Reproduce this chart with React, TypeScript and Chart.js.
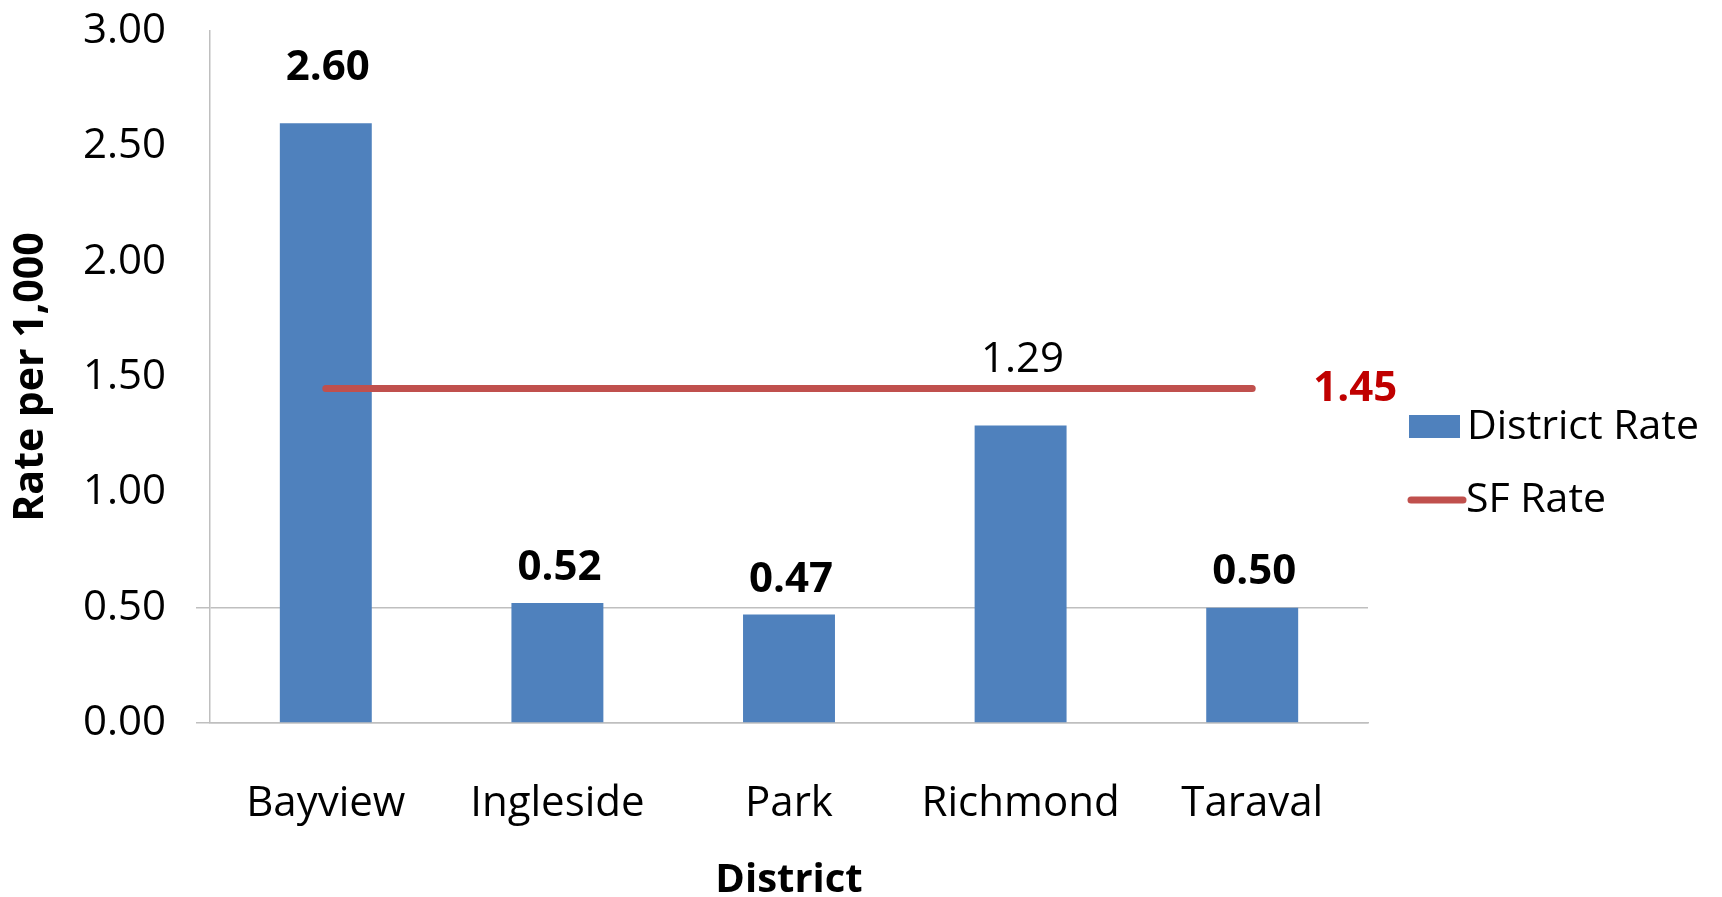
import React, { useEffect, useRef } from "react";
import { Chart, registerables } from "chart.js";

Chart.register(...registerables);

const districts = ["Bayview", "Ingleside", "Park", "Richmond", "Taraval"];
const districtRate = [2.6, 0.52, 0.47, 1.29, 0.5];
const sfRate = [1.45, 1.45, 1.45, 1.45, 1.45];
const yMin = 0;
const yMax = 3;
const yStep = 0.5;
const gridValues = [0, 0.5];

const BAR_COLOR = "#4F81BD";
const LINE_COLOR = "#C0504D";
const LABEL_RED = "#C00000";
const AXIS_GRAY = "#BFBFBF";
const FONT = "'Open Sans', 'Noto Sans', sans-serif";

// distance (px) between bar top and its value label centre
const labelGaps = [55, 35, 35, 65, 36];
const boldLabels = [true, true, true, false, true];

const labelPlugin = {
  id: "valueLabels",
  afterDatasetsDraw(chart: any) {
    const ctx = chart.ctx;
    const barMeta = chart.getDatasetMeta(0);
    ctx.save();
    ctx.textAlign = "center";
    ctx.textBaseline = "middle";
    ctx.fillStyle = "#000";
    barMeta.data.forEach((el: any, i: number) => {
      ctx.font = `${boldLabels[i] ? "bold " : ""}42px ${FONT}`;
      ctx.fillText(districtRate[i].toFixed(2), el.x + 2, el.y - labelGaps[i]);
    });
    const lineMeta = chart.getDatasetMeta(1);
    const last = lineMeta.data[lineMeta.data.length - 1];
    ctx.font = `bold 42px ${FONT}`;
    ctx.fillStyle = LABEL_RED;
    ctx.textAlign = "left";
    ctx.fillText(sfRate[sfRate.length - 1].toFixed(2), last.x + 61, last.y);

    // legend
    const lx = chart.chartArea.right + 41;
    ctx.fillStyle = BAR_COLOR;
    ctx.fillRect(lx, 415, 51, 23);
    ctx.fillStyle = "#000";
    ctx.font = `41px ${FONT}`;
    ctx.textAlign = "left";
    ctx.fillText(chart.data.datasets[0].label, lx + 58, 427);
    ctx.strokeStyle = LINE_COLOR;
    ctx.lineWidth = 7;
    ctx.lineCap = "round";
    ctx.beginPath();
    ctx.moveTo(lx + 2, 500);
    ctx.lineTo(lx + 54, 500);
    ctx.stroke();
    ctx.fillText(chart.data.datasets[1].label, lx + 57, 500);
    ctx.restore();
  },
};

export default function App() {
  const ref = useRef<HTMLCanvasElement | null>(null);
  useEffect(() => {
    document.body.style.margin = "0";
    const canvas = ref.current;
    if (!canvas) return;
    const chart = new Chart(canvas, {
      type: "bar",
      data: {
        labels: districts,
        datasets: [
          {
            type: "bar",
            label: "District Rate",
            data: districtRate,
            backgroundColor: BAR_COLOR,
            borderWidth: 0,
            categoryPercentage: 1,
            barPercentage: 0.397,
            order: 2,
          },
          {
            type: "line",
            label: "SF Rate",
            data: sfRate,
            borderColor: LINE_COLOR,
            borderWidth: 7,
            borderCapStyle: "round",
            pointRadius: 0,
            fill: false,
            order: 1,
          },
        ],
      } as any,
      plugins: [labelPlugin],
      options: {
        animation: false,
        responsive: false,
        devicePixelRatio: 1,
        layout: { padding: { top: 31, right: 354, left: 0, bottom: 0 } },
        plugins: { legend: { display: false }, tooltip: { enabled: false } },
        scales: {
          x: {
            grid: { display: false, drawTicks: false },
            border: { display: true, color: AXIS_GRAY, width: 1.5 },
            ticks: {
              color: "#000",
              font: { family: FONT, size: 42 },
              padding: 56,
            },
            title: {
              display: true,
              text: "District",
              color: "#000",
              font: { family: FONT, size: 40, weight: "bold", lineHeight: 0.8 },
              padding: { top: 0, bottom: 0 },
            },
            afterFit: (s: any) => {
              s.height = 174;
              s.paddingLeft = 0;
              s.paddingRight = 0;
            },
          },
          y: {
            min: yMin,
            max: yMax,
            ticks: {
              stepSize: yStep,
              color: "#000",
              font: { family: FONT, size: 42 },
              padding: 30,
              callback: (v: any) => Number(v).toFixed(2),
            },
            grid: {
              color: (c: any) =>
                gridValues.includes(c.tick?.value) ? AXIS_GRAY : "rgba(0,0,0,0)",
              tickColor: (c: any) =>
                gridValues.includes(c.tick?.value) ? AXIS_GRAY : "rgba(0,0,0,0)",
              tickLength: 14,
              lineWidth: 1.5,
            },
            border: { display: true, color: AXIS_GRAY, width: 1.5 },
            title: {
              display: true,
              text: "Rate per 1,000",
              color: "#000",
              font: { family: FONT, size: 41, weight: "bold", lineHeight: 1.2 },
              padding: { top: 7, bottom: 0 },
            },
            afterFit: (s: any) => {
              s.width = 210;
              s.paddingTop = 0;
              s.paddingBottom = 0;
            },
          },
        },
      } as any,
    });
    return () => chart.destroy();
  }, []);
  return (
    <canvas
      ref={ref}
      width={1722}
      height={897}
      style={{ display: "block", width: "1722px", height: "897px" }}
    />
  );
}
